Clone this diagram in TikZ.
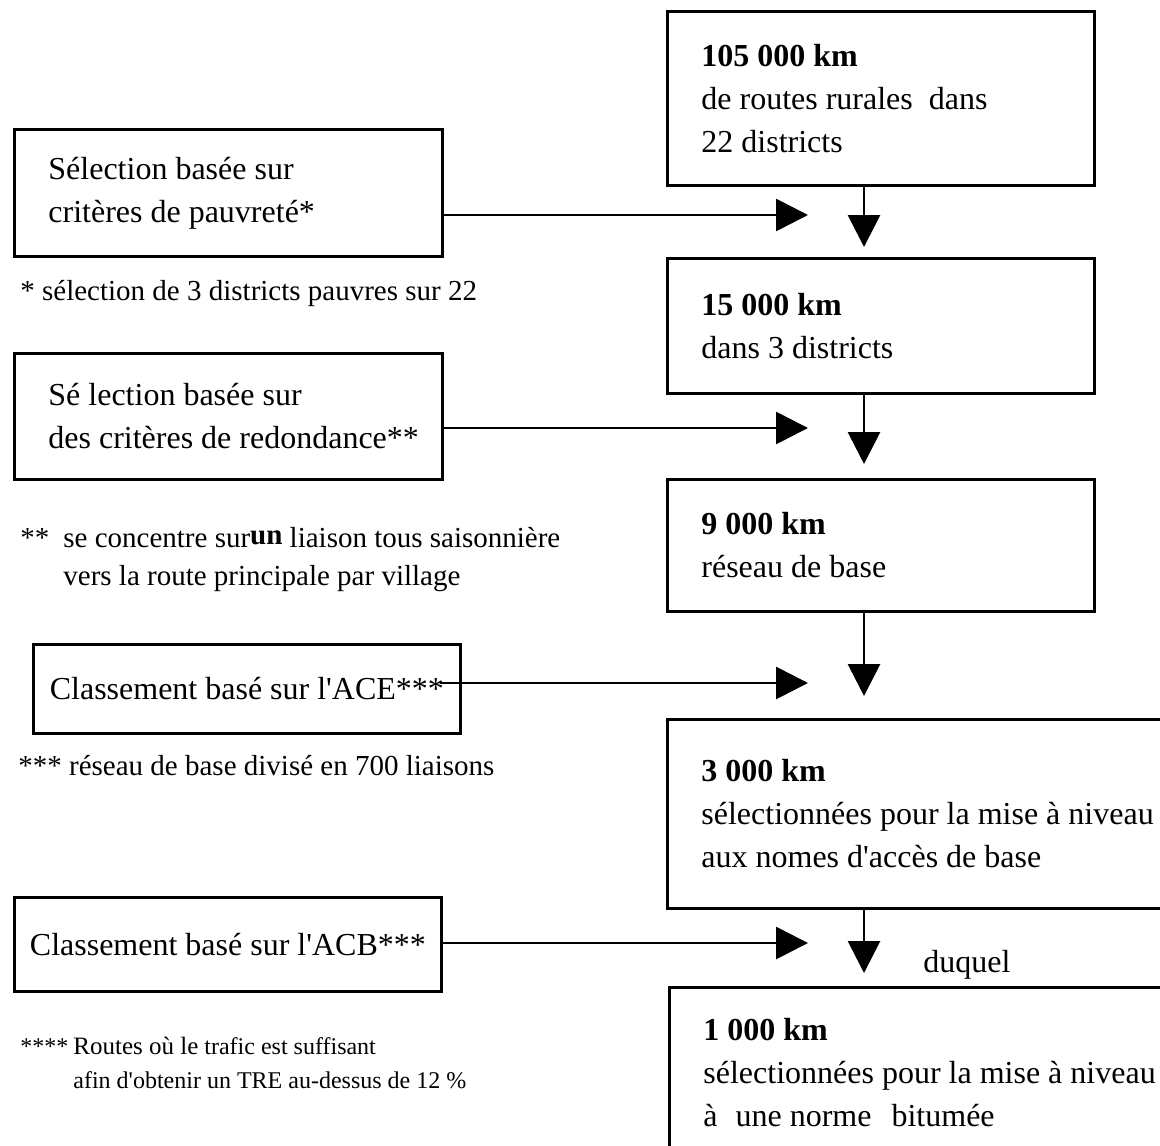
\documentclass[tikz,border=0pt]{standalone}
\usepackage{fontspec}
\setmainfont{Liberation Serif}
\usetikzlibrary{arrows.meta}

\begin{document}
\begin{tikzpicture}[x=0.5pt, y=-0.5pt, every node/.style={font=\fontsize{16}{21.5}\selectfont},
  box/.style={draw,line width=1.4pt,anchor=north west,align=flush left,inner xsep=8pt,inner ysep=0pt,
    execute at begin node={\leftskip=9pt}},
  line/.style={draw,line width=1.4pt,anchor=north west,inner ysep=0pt},
  note/.style={anchor=base west,inner sep=0pt,font=\fontsize{14.5}{18}\selectfont},
  small/.style={anchor=base west,inner sep=0pt,font=\fontsize{12}{15}\selectfont},
  flow/.style={line width=1.4pt,-{Triangle[length=16pt,width=16pt]}}]
\useasboundingbox (0,0) rectangle (1160,1145);
\clip (0,0) rectangle (1160,1145);
% right column
\node[box,text width=197.5pt,minimum height=87pt] (km105) at (666,10) {\textbf{105 000 km}\\ de routes rurales~ dans\\ 22 districts};
\node[box,text width=197.5pt,minimum height=67.5pt] (km15) at (666,257) {\textbf{15 000 km}\\ dans 3 districts};
\node[box,text width=197.5pt,minimum height=66pt] (km9) at (666,478) {\textbf{9 000 km}\\ réseau de base};
\node[box,text width=264pt,minimum height=94.5pt] (km3) at (666,718) {\textbf{3 000 km}\\ sélectionnées pour la mise à niveau\\ aux nomes d\textquotesingle accès de base};
\node[box,text width=264pt,minimum height=85.5pt] (km1) at (668,986) {\textbf{1 000 km}\\ sélectionnées pour la mise à niveau\\ à\hspace{9pt}une norme\hspace{10pt}bitumée};
\node[anchor=base west,inner sep=0pt] (duquel) at (923,972) {duquel};
% left column
\node[box,text width=198pt,minimum height=63.5pt] (sel1) at (13,128) {Sélection basée sur\\ critères de pauvreté*};
\node[box,text width=198pt,minimum height=63pt] (sel2) at (13,352) {Sé lection basée sur\\ des critères de redondance**};
\node[line,inner xsep=7.5pt,minimum width=213.5pt,minimum height=44.5pt] (ace) at (32,643) {Classement basé sur l\textquotesingle ACE***};
\node[line,inner xsep=7.5pt,minimum width=213.5pt,minimum height=47pt] (acb) at (13,896) {Classement basé sur l\textquotesingle ACB***};
% notes
\node[note] (n1) at (20,300) {* sélection de 3 districts pauvres sur 22};
\node[note] (n2a) at (20,547) {**};
\node[note] (n2b) at (63,547) {se concentre sur\raisebox{1.5pt}{\textbf{un}} liaison tous saisonnière};
\node[note] (n2c) at (63,585) {vers la route principale par village};
\node[note] (n3) at (18,775) {*** réseau de base divisé en 700 liaisons};
\node[small] (n4a) at (20,1054) {****};
\node[small] (n4b) at (73,1054) {{\fontsize{12.5}{15}\selectfont Routes où le} trafic est suffisant};
\node[small] (n4c) at (73,1088) {afin d\textquotesingle obtenir un TRE au-dessus de 12 \%};
% arrow ends
\coordinate (h1) at (808,215);
\coordinate (h2) at (808,428);
\coordinate (h3) at (808,683);
\coordinate (h4) at (808,943);
\coordinate (v1) at (864,247);
\coordinate (v2) at (864,464);
\coordinate (v3) at (864,696);
\coordinate (v4) at (864,973);
\draw[flow] (sel1.east |- h1) -- (h1);
\draw[flow] (sel2.east |- h2) -- (h2);
\draw[flow,shorten <=-11pt] (ace.east |- h3) -- (h3);
\draw[flow] (acb.east |- h4) -- (h4);
\draw[flow] (km105.south -| v1) -- (v1);
\draw[flow] (km15.south -| v2) -- (v2);
\draw[flow] (km9.south -| v3) -- (v3);
\draw[flow] (km3.south -| v4) -- (v4);
\end{tikzpicture}
\end{document}
